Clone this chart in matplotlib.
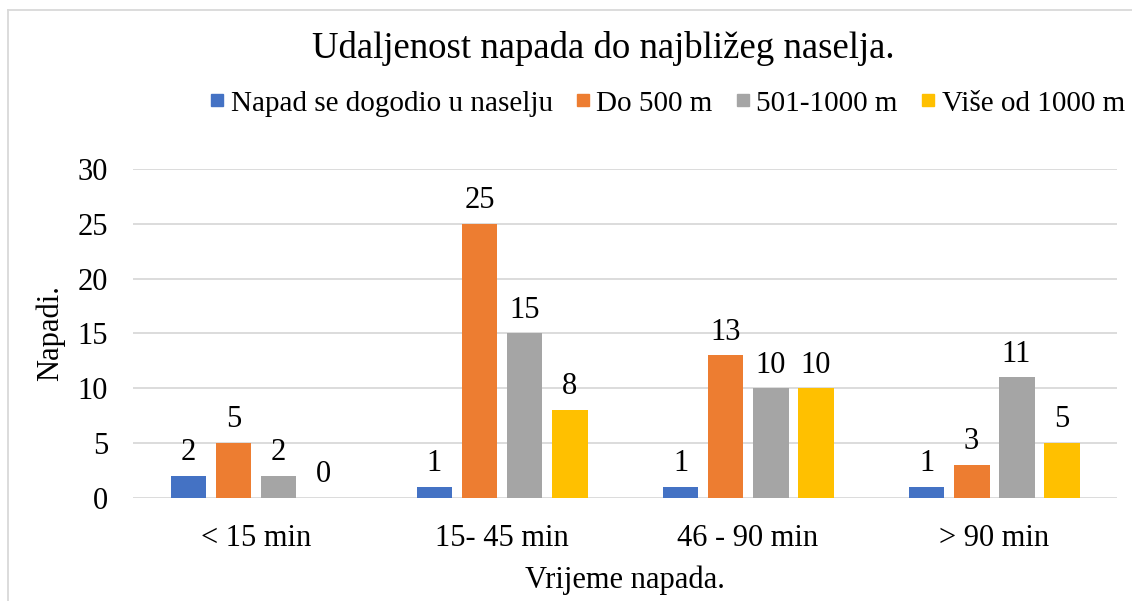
import numpy as np
import matplotlib
matplotlib.use("Agg")
import matplotlib.pyplot as plt
from matplotlib.lines import Line2D

plt.rcParams['font.family'] = ['Liberation Serif', 'DejaVu Serif']

categories = ["< 15 min", "15- 45 min", "46 - 90 min", "> 90 min"]
series_names = ["Napad se dogodio u naselju", "Do 500 m", "501-1000 m", "Više od 1000 m"]
u_naselju = [2, 1, 1, 1]
do_500 = [5, 25, 13, 3]
od_501_1000 = [2, 15, 10, 11]
vise_od_1000 = [0, 8, 10, 5]
colors = ["#4472C4", "#ED7D31", "#A5A5A5", "#FFC000"]

fig = plt.figure(figsize=(11.32, 6.01), dpi=100)
ax = fig.add_axes([0.1175, 0.1714, 0.8693, 0.5474])

x = np.arange(len(categories))
step = 0.183
width = 0.146
all_series = [u_naselju, do_500, od_501_1000, vise_od_1000]
for i, (vals, col) in enumerate(zip(all_series, colors)):
    pos = x + (i - 1.5) * step
    bars = ax.bar(pos, vals, width=width, color=col, zorder=3)
    for b, v in zip(bars, vals):
        ax.text(b.get_x() + b.get_width() / 2, v + 0.8, str(v),
                ha='center', va='bottom', fontsize=22)

ax.set_xlim(-0.5, 3.5)
ax.set_ylim(0, 30)
ax.set_yticks(range(0, 31, 5))
ax.set_xticks(x)
ax.set_xticklabels(categories)
ax.tick_params(axis='both', length=0, labelsize=22)
ax.tick_params(axis='y', pad=18)
ax.tick_params(axis='x', pad=19)
ax.yaxis.grid(True, color="#D9D9D9", linewidth=1.3, zorder=0)
for s in ax.spines.values():
    s.set_visible(False)

ax.set_ylabel("Napadi.", fontsize=22, va='center')
ax.yaxis.set_label_coords(-0.084, 0.5)
ax.set_xlabel("Vrijeme napada.", fontsize=22, labelpad=9)

fig.text(0.533, 0.92, "Udaljenost napada do najbližeg naselja.", ha='center', va='center', fontsize=26.5)

handles = [Line2D([0], [0], marker='s', linestyle='none', markersize=8,
                  markerfacecolor=c, markeredgecolor=c) for c in colors]
fig.legend(handles, series_names, loc='center', bbox_to_anchor=(0.587, 0.828), ncol=4,
           frameon=False, fontsize=21, handletextpad=0.0, columnspacing=0.6,
           handlelength=0.9)

# chart border (partially visible)
fig.add_artist(Line2D([0.007, 0.007], [0, 0.983], transform=fig.transFigure, color="#D9D9D9", lw=1.3))
fig.add_artist(Line2D([0.007, 1.0], [0.983, 0.983], transform=fig.transFigure, color="#D9D9D9", lw=1.3))

fig.savefig("out.png", dpi=100)
